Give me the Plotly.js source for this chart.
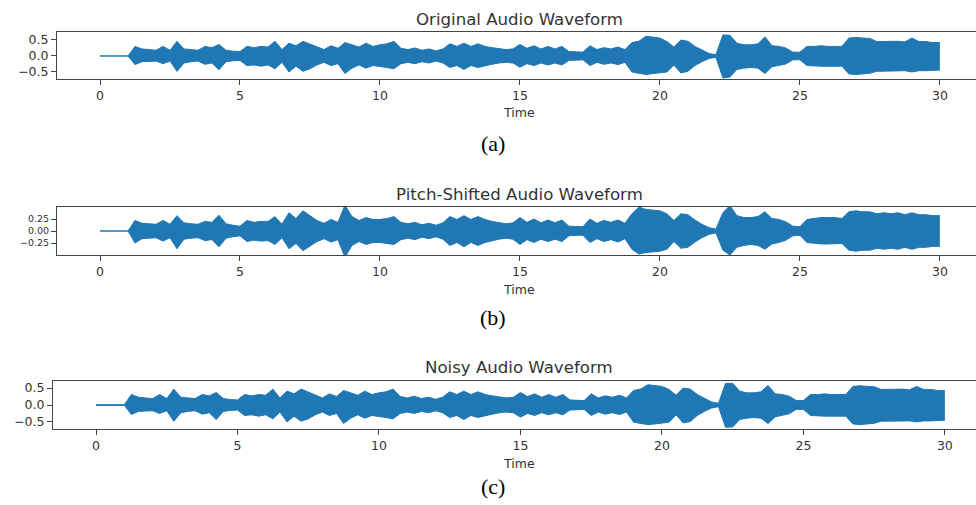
<!DOCTYPE html>
<html>
<head>
<meta charset="utf-8">
<script src="https://cdn.plot.ly/plotly-3.0.1.min.js"></script>
<style>
  html, body { margin: 0; padding: 0; background: #ffffff; overflow: hidden; }
  #chart { width: 976px; height: 505px; }
</style>
</head>
<body>
<div id="chart"></div>
<script>
// ---- Data (envelope of each waveform, every 0.25 s) ----
const TIME = [0,0.25,0.5,0.75,1,1.25,1.5,1.75,2,2.25,2.5,2.75,3,3.25,3.5,3.75,4,4.25,4.5,4.75,
  5,5.25,5.5,5.75,6,6.25,6.5,6.75,7,7.25,7.5,7.75,8,8.25,8.5,8.75,9,9.25,9.5,9.75,
  10,10.25,10.5,10.75,11,11.25,11.5,11.75,12,12.25,12.5,12.75,13,13.25,13.5,13.75,14,14.25,14.5,14.75,
  15,15.25,15.5,15.75,16,16.25,16.5,16.75,17,17.25,17.5,17.75,18,18.25,18.5,18.75,19,19.25,19.5,19.75,
  20,20.25,20.5,20.75,21,21.25,21.5,21.75,22,22.25,22.5,22.75,23,23.25,23.5,23.75,24,24.25,24.5,24.75,
  25,25.25,25.5,25.75,26,26.25,26.5,26.75,27,27.25,27.5,27.75,28,28.25,28.5,28.75,29,29.25,29.5,29.75,30];

const originalUpper = [0,0,0,0,0,
  0.30,0.22,0.20,0.18,0.30,0.18,0.46,0.22,0.20,0.18,0.30,0.26,0.36,0.18,0.15,0.14,
  0.30,0.26,0.30,0.28,0.46,0.20,0.40,0.32,0.46,0.38,0.28,0.20,0.32,0.24,0.42,0.36,
  0.28,0.40,0.30,0.35,0.38,0.46,0.24,0.20,0.25,0.18,0.22,0.16,0.22,0.38,0.30,0.40,
  0.30,0.38,0.30,0.26,0.22,0.20,0.22,0.36,0.24,0.32,0.22,0.30,0.22,0.30,0.14,0.12,
  0.12,0.32,0.20,0.26,0.22,0.28,0.20,0.42,0.46,0.62,0.58,0.56,0.45,0.28,0.50,0.46,
  0.30,0.18,0.08,0.04,0.66,0.65,0.40,0.35,0.35,0.38,0.60,0.32,0.30,0.25,0.12,0.12,
  0.30,0.30,0.32,0.30,0.30,0.30,0.56,0.58,0.56,0.55,0.45,0.46,0.45,0.46,0.44,0.56,0.45,0.45,0.42,0.42];
const originalLower = [0,0,0,0,0,
  -0.27,-0.18,-0.17,-0.16,-0.24,-0.16,-0.48,-0.22,-0.18,-0.16,-0.26,-0.22,-0.43,-0.18,-0.15,-0.14,
  -0.30,-0.28,-0.32,-0.28,-0.40,-0.20,-0.50,-0.32,-0.48,-0.40,-0.28,-0.20,-0.30,-0.24,-0.55,-0.38,
  -0.28,-0.38,-0.30,-0.32,-0.36,-0.40,-0.24,-0.20,-0.24,-0.18,-0.22,-0.16,-0.22,-0.36,-0.30,-0.42,
  -0.30,-0.36,-0.30,-0.26,-0.22,-0.20,-0.22,-0.35,-0.24,-0.30,-0.22,-0.28,-0.22,-0.28,-0.14,-0.12,
  -0.12,-0.30,-0.20,-0.26,-0.22,-0.27,-0.20,-0.50,-0.53,-0.58,-0.55,-0.53,-0.50,-0.28,-0.53,-0.48,
  -0.30,-0.18,-0.08,-0.04,-0.69,-0.66,-0.42,-0.38,-0.36,-0.38,-0.55,-0.34,-0.30,-0.25,-0.12,-0.12,
  -0.30,-0.32,-0.32,-0.32,-0.32,-0.32,-0.56,-0.58,-0.56,-0.54,-0.48,-0.48,-0.46,-0.48,-0.46,-0.50,-0.46,-0.46,-0.44,-0.44];

const pitchUpper = [0,0,0,0,0,
  0.22,0.16,0.15,0.14,0.22,0.14,0.32,0.17,0.15,0.14,0.20,0.18,0.33,0.15,0.12,0.10,
  0.22,0.18,0.20,0.20,0.30,0.14,0.38,0.26,0.42,0.32,0.22,0.16,0.24,0.18,0.54,0.30,
  0.22,0.28,0.24,0.24,0.26,0.30,0.18,0.15,0.18,0.13,0.16,0.12,0.17,0.30,0.24,0.32,
  0.24,0.30,0.24,0.20,0.17,0.15,0.17,0.28,0.18,0.25,0.17,0.23,0.17,0.23,0.10,0.09,
  0.09,0.25,0.16,0.22,0.18,0.23,0.16,0.36,0.50,0.45,0.44,0.42,0.36,0.22,0.36,0.34,
  0.23,0.14,0.07,0.04,0.38,0.53,0.32,0.28,0.28,0.30,0.40,0.26,0.24,0.19,0.10,0.09,
  0.24,0.26,0.28,0.28,0.28,0.26,0.40,0.42,0.40,0.40,0.36,0.38,0.36,0.38,0.34,0.38,0.34,0.34,0.32,0.32];
const pitchLower = [0,0,0,0,0,
  -0.25,-0.16,-0.15,-0.14,-0.21,-0.14,-0.37,-0.17,-0.15,-0.14,-0.20,-0.18,-0.33,-0.15,-0.12,-0.10,
  -0.22,-0.19,-0.21,-0.20,-0.28,-0.14,-0.37,-0.26,-0.41,-0.32,-0.22,-0.16,-0.23,-0.18,-0.55,-0.30,
  -0.22,-0.28,-0.24,-0.24,-0.26,-0.28,-0.18,-0.15,-0.18,-0.13,-0.16,-0.12,-0.17,-0.30,-0.24,-0.33,
  -0.24,-0.30,-0.24,-0.20,-0.17,-0.15,-0.17,-0.28,-0.18,-0.24,-0.17,-0.22,-0.17,-0.22,-0.10,-0.09,
  -0.09,-0.24,-0.16,-0.22,-0.18,-0.23,-0.16,-0.38,-0.48,-0.45,-0.44,-0.42,-0.38,-0.22,-0.36,-0.34,
  -0.23,-0.14,-0.07,-0.04,-0.40,-0.50,-0.34,-0.30,-0.28,-0.30,-0.38,-0.27,-0.24,-0.19,-0.10,-0.09,
  -0.24,-0.26,-0.27,-0.27,-0.27,-0.26,-0.40,-0.42,-0.40,-0.40,-0.36,-0.38,-0.36,-0.38,-0.34,-0.38,-0.34,-0.34,-0.32,-0.32];

const noisyUpper = [0.01,0.01,0.01,0.01,0.01,
  0.31,0.23,0.21,0.19,0.31,0.19,0.47,0.23,0.21,0.19,0.31,0.27,0.37,0.19,0.16,0.15,
  0.31,0.27,0.31,0.29,0.47,0.21,0.41,0.33,0.47,0.39,0.29,0.21,0.33,0.25,0.43,0.37,
  0.29,0.41,0.31,0.36,0.39,0.47,0.25,0.21,0.26,0.19,0.23,0.17,0.23,0.39,0.31,0.41,
  0.31,0.39,0.31,0.27,0.23,0.21,0.23,0.37,0.25,0.33,0.23,0.31,0.23,0.31,0.15,0.13,
  0.13,0.33,0.21,0.27,0.23,0.29,0.21,0.43,0.47,0.60,0.57,0.55,0.46,0.29,0.50,0.47,
  0.31,0.19,0.09,0.05,0.64,0.64,0.41,0.36,0.36,0.39,0.58,0.33,0.31,0.26,0.13,0.13,
  0.31,0.31,0.33,0.31,0.31,0.31,0.55,0.57,0.55,0.54,0.46,0.47,0.46,0.47,0.45,0.55,0.46,0.46,0.43,0.43];
const noisyLower = [-0.01,-0.01,-0.01,-0.01,-0.01,
  -0.28,-0.19,-0.18,-0.17,-0.25,-0.17,-0.48,-0.23,-0.19,-0.17,-0.27,-0.23,-0.43,-0.19,-0.16,-0.15,
  -0.31,-0.29,-0.33,-0.29,-0.41,-0.21,-0.50,-0.33,-0.48,-0.41,-0.29,-0.21,-0.31,-0.25,-0.55,-0.39,
  -0.29,-0.39,-0.31,-0.33,-0.37,-0.41,-0.25,-0.21,-0.25,-0.19,-0.23,-0.17,-0.23,-0.37,-0.31,-0.43,
  -0.31,-0.37,-0.31,-0.27,-0.23,-0.21,-0.23,-0.36,-0.25,-0.31,-0.23,-0.29,-0.23,-0.29,-0.15,-0.13,
  -0.13,-0.31,-0.21,-0.27,-0.23,-0.28,-0.21,-0.51,-0.54,-0.58,-0.56,-0.54,-0.51,-0.29,-0.53,-0.49,
  -0.31,-0.19,-0.09,-0.05,-0.66,-0.65,-0.43,-0.39,-0.37,-0.39,-0.55,-0.35,-0.31,-0.26,-0.13,-0.13,
  -0.31,-0.33,-0.33,-0.33,-0.33,-0.33,-0.56,-0.58,-0.56,-0.54,-0.48,-0.48,-0.47,-0.48,-0.47,-0.50,-0.47,-0.47,-0.45,-0.45];

const TITLES = ["Original Audio Waveform", "Pitch-Shifted Audio Waveform", "Noisy Audio Waveform"];
const CAPTIONS = ["(a)", "(b)", "(c)"];
const X_TICKS = [0, 5, 10, 15, 20, 25, 30];
const Y_TICKS_A = [0.5, 0.0, -0.5];
const Y_LABELS_A = ["0.5", "0.0", "\u22120.5"];
const Y_TICKS_B = [0.25, 0.0, -0.25];
const Y_LABELS_B = ["0.25", "0.00", "\u22120.25"];
const Y_TICKS_C = [0.5, 0.0, -0.5];
const Y_LABELS_C = ["0.5", "0.0", "\u22120.5"];

// ---- Styling / layout ----
const W = 976, H = 505;
const BLUE = "#1f77b4";
const AX = "#444444";
const TXT = "#333333";
const FONT = "DejaVu Sans";

function py(p) { return 1 - p / H; }
function px(p) { return p / W; }

const panels = [
  { up: originalUpper, lo: originalLower, xr: [-1.536, 31.29], yr: [-0.72, 0.75], top: 32, bot: 79, left: 57,
    tv: Y_TICKS_A, tt: Y_LABELS_A, tfs: 12.5, titleY: 19, timeY: 113, capY: 143, cx: 519 },
  { up: pitchUpper, lo: pitchLower, xr: [-1.536, 31.29], yr: [-0.5, 0.5], top: 207, bot: 255, left: 57,
    tv: Y_TICKS_B, tt: Y_LABELS_B, tfs: 9.5, titleY: 194, timeY: 289, capY: 317, cx: 519 },
  { up: noisyUpper, lo: noisyLower, xr: [-1.52, 31.10], yr: [-0.71, 0.71], top: 381, bot: 429, left: 53,
    tv: Y_TICKS_C, tt: Y_LABELS_C, tfs: 12.5, titleY: 367, timeY: 463, capY: 486, cx: 519 }
];

const traces = [];
const layout = {
  width: W, height: H,
  margin: { l: 0, r: 0, t: 0, b: 0 },
  paper_bgcolor: "#ffffff", plot_bgcolor: "#ffffff",
  showlegend: false,
  font: { family: FONT, color: TXT, size: 12.5 },
  annotations: []
};

panels.forEach((p, i) => {
  const n = i === 0 ? "" : String(i + 1);
  const xa = "x" + n, ya = "y" + n;
  traces.push({ x: TIME, y: p.lo, xaxis: xa, yaxis: ya, type: "scatter", mode: "lines",
    line: { color: BLUE, width: 1 }, hoverinfo: "skip" });
  traces.push({ x: TIME, y: p.up, xaxis: xa, yaxis: ya, type: "scatter", mode: "lines",
    fill: "tonexty", fillcolor: BLUE, line: { color: BLUE, width: 1 }, hoverinfo: "skip" });

  layout["xaxis" + n] = {
    domain: [px(p.left), 1], range: p.xr, anchor: ya,
    showline: true, mirror: true, linecolor: AX, linewidth: 1,
    ticks: "outside", ticklen: 5, tickwidth: 1, tickcolor: AX,
    tickmode: "array", tickvals: X_TICKS, ticktext: X_TICKS.map(String),
    tickfont: { family: FONT, size: 12.5, color: TXT },
    showgrid: false, zeroline: false, fixedrange: true
  };
  layout["yaxis" + n] = {
    domain: [py(p.bot), py(p.top)], range: p.yr, anchor: xa,
    showline: true, mirror: false, linecolor: AX, linewidth: 1,
    ticks: "outside", ticklen: 5, tickwidth: 1, tickcolor: AX,
    tickmode: "array", tickvals: p.tv, ticktext: p.tt,
    tickfont: { family: FONT, size: p.tfs, color: TXT },
    showgrid: false, zeroline: false, fixedrange: true
  };

  layout.annotations.push({ text: TITLES[i], xref: "paper", yref: "paper", x: px(p.cx), y: py(p.titleY),
    xanchor: "center", yanchor: "middle", showarrow: false, font: { family: FONT, size: 16.6, color: TXT } });
  layout.annotations.push({ text: "Time", xref: "paper", yref: "paper", x: px(p.cx), y: py(p.timeY),
    xanchor: "center", yanchor: "middle", showarrow: false, font: { family: FONT, size: 12.5, color: TXT } });
  layout.annotations.push({ text: CAPTIONS[i], xref: "paper", yref: "paper", x: px(493), y: py(p.capY),
    xanchor: "center", yanchor: "middle", showarrow: false, font: { family: "Liberation Serif", size: 22, color: "#000000" } });
});

Plotly.newPlot("chart", traces, layout, { staticPlot: true, displayModeBar: false });
</script>
</body>
</html>
